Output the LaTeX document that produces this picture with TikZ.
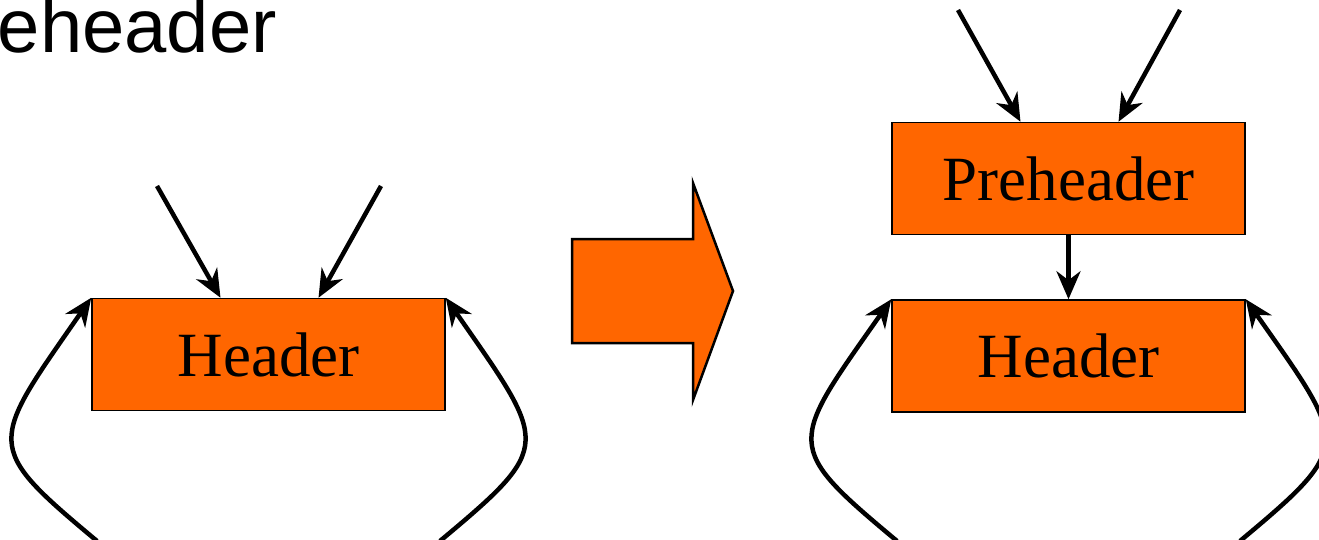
\documentclass[tikz,border=0pt]{standalone}
\usepackage{fontspec}
\setmainfont{Liberation Serif}
\newfontfamily\titlefont{Liberation Sans}
\usetikzlibrary{arrows.meta, positioning}
\definecolor{blockorange}{HTML}{FF6600}

\begin{document}
\begin{tikzpicture}[x=1pt, y=1pt,
    block node/.style={draw, line width=1.5pt, fill=blockorange, minimum width=353pt, minimum height=112pt, inner sep=0pt, font=\fontsize{63}{70}\selectfont},
    edge/.style={line width=4.5pt, -{Stealth[length=28pt, width=24pt, inset=9pt]}}]
    \useasboundingbox (0,0) rectangle (1319,539);
    \clip (0,0) rectangle (1319,539);

    \node[anchor=base east, inner sep=0pt, font=\titlefont\fontsize{76}{90}\selectfont] (title) at (277,486) {Preheader};

    % before
    \node[block node] (hdr) at (268.5,184.5) {Header};
    \coordinate (inl) at (157,353);
    \coordinate (inr) at (381,353);
    \coordinate (backl) at (97,-2);
    \coordinate (backr) at (440,-2);

    \draw[edge] (inl) -- ([xshift=-48pt]hdr.north);
    \draw[edge] (inr) -- ([xshift=50pt]hdr.north);
    \draw[edge] (backl) .. controls (-18,94) and (-11,94) .. (hdr.north west);
    \draw[edge] (backr) .. controls (555,94) and (548,94) .. (hdr.north east);

    % the big arrow
    \draw[line width=2.5pt, fill=blockorange] (572,300) -- (693,300) -- (693,356) -- (733,248) -- (693,139) -- (693,196) -- (572,196) -- cycle;

    % after
    \node[block node] (prehdr) at (1068.5,360.5) {Preheader};
    \node[block node, below=64pt of prehdr] (hdrtwo) {Header};
    \coordinate (inpl) at (958,529);
    \coordinate (inpr) at (1180,529);
    \coordinate (backpl) at (897,-2);
    \coordinate (backpr) at (1240,-2);

    \draw[edge] (inpl) -- ([xshift=-48pt]prehdr.north);
    \draw[edge] (inpr) -- ([xshift=50pt]prehdr.north);
    \draw[edge] (prehdr) -- (hdrtwo);
    \draw[edge] (backpl) .. controls (782,94) and (789,94) .. (hdrtwo.north west);
    \draw[edge] (backpr) .. controls (1355,94) and (1348,94) .. (hdrtwo.north east);
\end{tikzpicture}
\end{document}
